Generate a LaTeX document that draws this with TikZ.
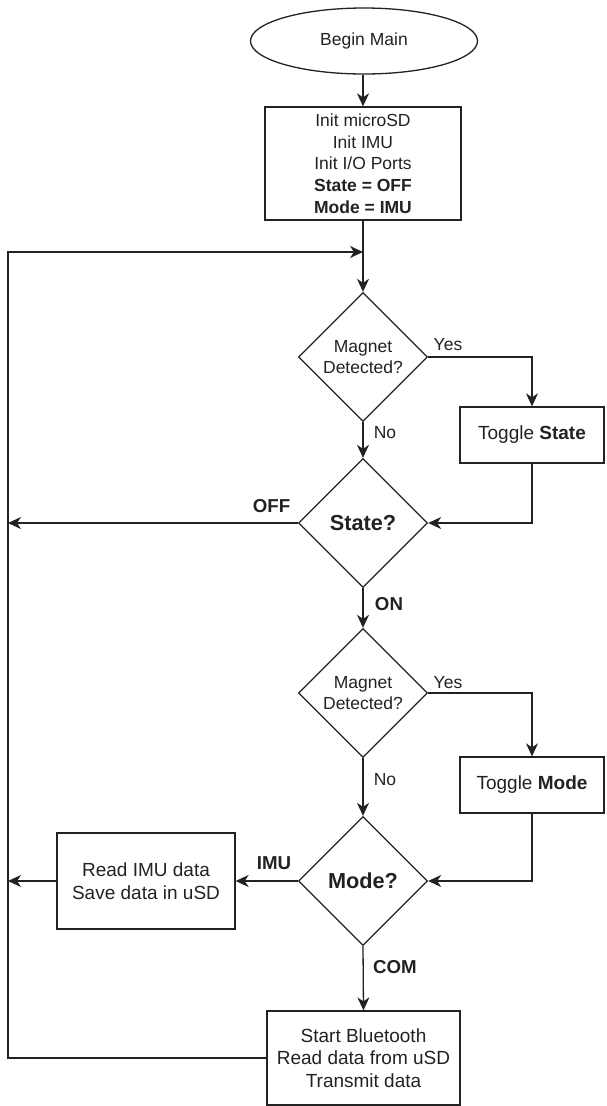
\documentclass[tikz,border=0pt]{standalone}
\usepackage{fontspec}
\setmainfont{Liberation Sans}
\usetikzlibrary{shapes.geometric,arrows.meta}
\definecolor{ink}{HTML}{222222}
\begin{document}
\begin{tikzpicture}[x=1pt,y=-1pt,
  base/.style={draw=ink, text=ink, line width=1.3pt, inner sep=0pt, align=center,
    font=\fontsize{17.5}{21.7}\selectfont},
  startnode/.style={base, ellipse, minimum width=227pt, minimum height=66pt},
  box/.style={base, rectangle},
  midbox/.style={box, font=\fontsize{19}{22.5}\selectfont},
  dec/.style={base, diamond, minimum width=129pt, minimum height=129pt},
  bigdec/.style={dec, font=\fontsize{21.7}{24}\selectfont\bfseries},
  lbl/.style={text=ink, inner sep=0pt, font=\fontsize{17.5}{21}\selectfont},
  blbl/.style={text=ink, inner sep=0pt, font=\fontsize{18.7}{22}\selectfont\bfseries},
  conn/.style={draw=ink, line width=1.3pt},
  arr/.style={conn, -{Stealth[length=13pt,width=12pt,inset=4pt]}}
]
\useasboundingbox (0,0) rectangle (606,1106);

% nodes
\node[startnode] (begin) at (364,41) {Begin Main};
\node[box, minimum width=196pt, minimum height=113pt] (init) at (363,163.5)
  {Init microSD\\Init IMU\\Init I/O Ports\\\textbf{State = OFF}\\\textbf{Mode = IMU}};
\coordinate (j1) at (363,252);
\node[dec] (d1) at (363,357) {Magnet\\Detected?};
\node[midbox, minimum width=144pt, minimum height=56pt] (ts) at (532,435) {Toggle \textbf{State}};
\node[bigdec] (d2) at (363,523) {State?};
\node[dec] (d3) at (363,693) {Magnet\\Detected?};
\node[midbox, minimum width=144pt, minimum height=56pt] (tm) at (532,785) {Toggle \textbf{Mode}};
\node[bigdec] (d4) at (363,881) {Mode?};
\node[midbox, minimum width=178pt, minimum height=96pt] (rimu) at (146,881)
  {Read IMU data\\Save data in uSD};
\node[midbox, minimum width=193pt, minimum height=94pt] (sb) at (363.5,1058)
  {Start Bluetooth\\Read data from uSD\\Transmit data};

\coordinate (ltop) at (8,252);
\coordinate (loff) at (8,523);
\coordinate (limu) at (8,881);
\coordinate (lbot) at (8,1058);

% connectors
\draw[arr] (begin.south -| init.north) -- (init.north);
\draw[conn] (init.south) -- (j1);
\draw[arr] (j1) -- (d1.north);
\draw[arr] (d1.east) -| (ts.north);
\draw[arr] (d1.south) -- (d2.north);
\draw[arr] (ts.south) |- (d2.east);
\draw[arr] (d2.west) -- (loff);
\draw[arr] (d2.south) -- (d3.north);
\draw[arr] (d3.east) -| (tm.north);
\draw[arr] (d3.south) -- (d4.north);
\draw[arr] (tm.south) |- (d4.east);
\draw[arr] (d4.west) -- (rimu.east);
\draw[arr] (rimu.west) -- (limu);
\draw[arr] (d4.south) -- (sb.north);
\draw[arr] (sb.west) -- (lbot) -- (ltop) -- (j1);

% labels
\node[lbl] (y1) at (448,345) {Yes};
\node[lbl] (n1) at (385,433) {No};
\node[blbl] (off) at (271.5,506) {OFF};
\node[blbl] (on) at (389,604) {ON};
\node[lbl] (y2) at (448,683) {Yes};
\node[lbl] (n2) at (385,780) {No};
\node[blbl] (imu) at (274,863) {IMU};
\node[blbl] (com) at (395,967) {COM};
\end{tikzpicture}
\end{document}
